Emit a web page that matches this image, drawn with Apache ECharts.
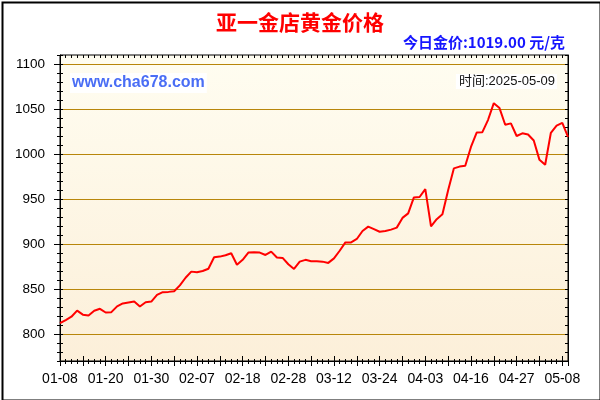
<!DOCTYPE html>
<html>
<head>
<meta charset="utf-8">
<script src="https://cdn.jsdelivr.net/npm/echarts@6/dist/echarts.min.js"></script>
<style>html,body{margin:0;padding:0;background:#fff}#c{width:600px;height:400px}</style>
</head>
<body>
<div id="c"></div>
<script>
// ---- data ----
const titleText = '亚一金店黄金价格';
const todayText = '今日金价:1019.00 元/克';
const siteText = 'www.cha678.com';
const timeText = '时间:2025-05-09';
const tickLabels = ['01-08','01-20','01-30','02-07','02-18','02-28','03-12','03-24','04-03','04-16','04-27','05-08'];
const prices = [
  812, 815.5, 819.2, 826, 821.5, 820.6, 825.8, 828, 823.9, 824.3,
  830.7, 834, 835, 836, 830.5, 835.3, 836, 843.5, 846.5, 846.8,
  847.5, 854, 862.5, 869.3, 868.6, 870, 872.5, 885.2, 886, 887.5,
  889.7, 877, 882.4, 890.5, 890.8, 890.5, 887.8, 891.5, 885, 884.5,
  877.5, 872.3, 880.4, 882.4, 880.9, 880.8, 880.4, 879, 884, 892.5,
  901.8, 901.8, 905.6, 914.4, 919.3, 916.5, 913.6, 914.4, 916, 918.2,
  929, 934, 951.8, 952.2, 960.9, 919.6, 927.6, 933, 959.8, 984,
  986, 987, 1007.8, 1023.8, 1024.3, 1038, 1056.5, 1051, 1032.5, 1034,
  1020, 1023, 1021.7, 1015, 993.5, 988, 1023.6, 1031.5, 1034.5, 1019
];
const yTicks = [800, 850, 900, 950, 1000, 1050, 1100];
const yMin = 770, yMax = 1110;

// ---- chart ----
const chart = echarts.init(document.getElementById('c'), null, {renderer: 'canvas'});
const lastIdx = prices.length - 1;
const black = '#000';
const gridColor = '#b8860b';
function xAx(pos, interval, inside, len, extra) {
  return Object.assign({
    type: 'value', gridIndex: 0, position: pos, min: 0, max: lastIdx, interval: interval,
    axisLine: {show: false, onZero: false},
    axisTick: {show: true, inside: inside, length: len, lineStyle: {color: black, width: 1}},
    axisLabel: {show: false}, splitLine: {show: false}
  }, extra || {});
}
function yAx(pos, inside, len, extra) {
  return Object.assign({
    type: 'value', gridIndex: 0, position: pos, min: yMin, max: yMax, interval: 10,
    axisLine: {show: false},
    axisTick: {show: true, inside: inside, length: len, lineStyle: {color: black, width: 1}},
    axisLabel: {show: false}, splitLine: {show: false}
  }, extra || {});
}
const option = {
  animation: false,
  backgroundColor: '#fff',
  grid: [{
    left: 60, top: 55, width: 508, height: 306, show: true,
    backgroundColor: {type: 'linear', x: 0, y: 0, x2: 0, y2: 1,
      colorStops: [{offset: 0, color: '#fffdf1'}, {offset: 1, color: '#fcefd9'}]},
    borderColor: black, borderWidth: 1
  }],
  xAxis: [
    xAx('bottom', 1, false, 3, {axisLine: {show: true, onZero: false, lineStyle: {color: black}}}),
    xAx('bottom', 4, false, 5, {axisLabel: {show: true, margin: 11, color: '#000',
      fontFamily: 'Liberation Sans, Arial', fontSize: 14,
      formatter: function (v) { const r = Math.round(v); return r % 8 === 0 && tickLabels[r / 8] ? tickLabels[r / 8] : ''; }}}),
    xAx('bottom', 1, true, 2),
    xAx('bottom', 4, true, 5),
    xAx('top', 1, true, 3)
  ],
  yAxis: [
    yAx('left', false, 3, {axisLine: {show: true, onZero: false, lineStyle: {color: black}},
      axisLabel: {show: true, margin: 15, color: '#000', fontFamily: 'Liberation Sans, Arial', fontSize: 13.5,
        formatter: function (v) { const r = Math.round(v); return yTicks.indexOf(r) >= 0 ? String(r) : ''; }}}),
    yAx('left', false, 6, {axisTick: {show: true, inside: false, length: 6, customValues: yTicks, lineStyle: {color: black}},
      splitLine: {show: true, lineStyle: {color: gridColor, width: 1}}}),
    yAx('left', true, 3),
    yAx('right', true, 3, {axisLine: {show: true, onZero: false, lineStyle: {color: black}}})
  ],
  series: [{
    type: 'line', xAxisIndex: 0, yAxisIndex: 0, z: 5,
    data: prices.map(function (v, i) { return [i, v]; }),
    symbol: 'none', smooth: false,
    lineStyle: {color: '#ff0000', width: 2}
  }],
  graphic: [
    {type: 'rect', left: 0, top: 0, z: 100, silent: true,
      shape: {x: 1, y: 1, width: 598, height: 398},
      style: {fill: 'none', stroke: '#000', lineWidth: 2}},
    {type: 'text', left: 'center', top: 12, z: 100,
      style: {text: titleText, fill: '#ff0000', font: 'bold 21px "Noto Sans CJK SC", sans-serif'}},
    {type: 'text', right: 35, top: 35, z: 100,
      style: {text: todayText, fill: '#1515ff', font: 'bold 15px "Noto Sans CJK SC", "Liberation Sans", sans-serif'}},
    {type: 'text', left: 70, top: 73, z: 100,
      style: {text: siteText, fill: '#4a6ef5', font: 'bold 16px "Liberation Sans", Arial, sans-serif',
        backgroundColor: '#fff', padding: [2, 2, 2, 2]}},
    {type: 'text', right: 43, top: 74, z: 100,
      style: {text: timeText, fill: '#111', font: '13px "Liberation Sans", "Noto Sans CJK SC", sans-serif',
        backgroundColor: '#fff', padding: [1, 2, 1, 3]}}
  ]
};
chart.setOption(option);
</script>
</body>
</html>
